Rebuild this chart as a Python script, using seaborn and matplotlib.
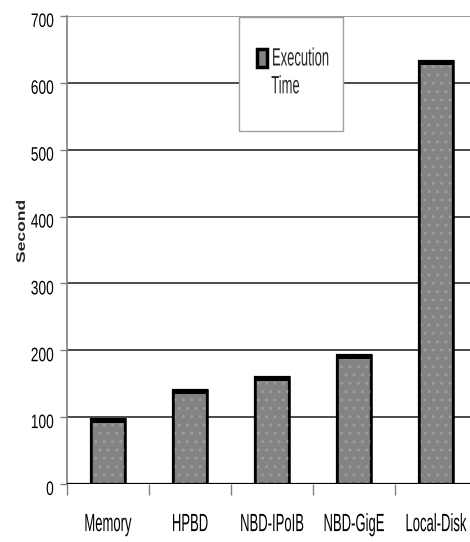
import matplotlib
matplotlib.use("Agg")
import matplotlib.pyplot as plt
import matplotlib.patheffects as pe
from matplotlib.legend_handler import HandlerPatch
from matplotlib.patches import Rectangle, Patch
from matplotlib.transforms import Affine2D
import numpy as np
import pandas as pd
import seaborn as sns

# Execution time per storage back-end (seconds)
categories = ["Memory", "HPBD", "NBD-IPoIB", "NBD-GigE", "Local-Disk"]
exec_time = [97, 141, 160, 193, 633]
y_ticks = [0, 100, 200, 300, 400, 500, 600, 700]


class Condensed(pe.AbstractPathEffect):
    """Redraw text glyphs with a narrow, tall face (Arial-Narrow look)."""

    def __init__(self, sx, sy=1.0, anchor="center", yanchor="center", dy=0.0):
        super().__init__()
        self.sx, self.sy = sx, sy
        self.anchor, self.yanchor = anchor, yanchor
        self.dy = dy

    def draw_path(self, renderer, gc, tpath, affine, rgbFace=None):
        ext = tpath.get_extents(affine)
        if self.anchor == "left":
            cx = ext.x0
        elif self.anchor == "right":
            cx = ext.x1
        else:
            cx = 0.5 * (ext.x0 + ext.x1)
        if self.yanchor == "base":
            cy = affine.transform([[0.0, 0.0]])[0][1]
        else:
            cy = 0.5 * (ext.y0 + ext.y1)
        reshape = (Affine2D().translate(-cx, -cy).scale(self.sx, self.sy)
                   .translate(cx, cy + self.dy))
        renderer.draw_path(gc, tpath, affine + reshape, rgbFace)


class RaisedHandle(HandlerPatch):
    """Legend swatch lifted to sit beside the first line of the label."""

    def __init__(self, lift, **kw):
        super().__init__(**kw)
        self.lift = lift

    def create_artists(self, legend, orig_handle, xdescent, ydescent,
                       width, height, fontsize, trans):
        p = Rectangle((-xdescent, -ydescent + self.lift), width, height)
        self.update_prop(p, orig_handle, legend)
        p.set_transform(trans)
        return [p]


sns.set_theme(style="white")
plt.rcParams["font.family"] = ["Liberation Sans", "DejaVu Sans"]

df = pd.DataFrame({"backend": categories, "seconds": exec_time})

fig = plt.figure(figsize=(4.70, 5.42), dpi=100)
ax = fig.add_axes([67 / 470, 1 - 484 / 542, 403 / 470, 468 / 542])

# horizontal grid lines behind the bars
for v in y_ticks[1:]:
    ax.axhline(v, color="#808080" if v == y_ticks[-1] else "#1a1a1a",
               lw=1.1, zorder=0)
ax.axhline(0, color="black", lw=1.6, zorder=3)

bar_w = 0.41
bar_grey = "#838383"
sns.barplot(data=df, x="backend", y="seconds", color=bar_grey, width=bar_w,
            saturation=1, edgecolor="black", linewidth=1.6, ax=ax, zorder=2)

# speckled texture and dark cap on each bar
xpos = np.arange(len(categories))
vals = np.asarray(exec_time, dtype=float)
ax.bar(xpos, vals, width=bar_w, facecolor="none", edgecolor="#9c9c9c",
       linewidth=0, hatch="..", zorder=2.1)
ax.bar(xpos, vals, width=bar_w, facecolor="none", edgecolor="black",
       linewidth=1.8, zorder=2.2)
cap = 6.0
ax.bar(xpos, cap, bottom=vals - cap, width=bar_w, color="black",
       linewidth=0, zorder=2.3)

ax.set_ylim(0, 700)
ax.set_xlim(-0.5, -0.5 + 403 / 82)
ax.set_yticks(y_ticks)
ax.set_yticklabels([str(t) for t in y_ticks])

# category labels centred, separators between categories
ax.set_xticks(xpos)
ax.set_xticklabels(categories)
ax.set_xticks(np.arange(len(categories)) - 0.5, minor=True)
ax.tick_params(axis="x", which="major", length=0, pad=26, labelsize=10,
               colors="black")
ax.tick_params(axis="x", which="minor", length=8, width=1, color="#808080",
               direction="out", bottom=True)
ax.tick_params(axis="y", length=5, width=1, color="#808080", direction="out",
               left=True, pad=4.5, labelsize=11, labelcolor="black")

for lab in ax.get_xticklabels():
    lab.set_path_effects([Condensed(0.94, 1.8, "center", "base")])
for lab in ax.get_yticklabels():
    lab.set_path_effects([Condensed(0.90, 1.28, "right", "center", dy=-4)])

for s in ["top", "right", "bottom"]:
    ax.spines[s].set_visible(False)
ax.spines["left"].set_color("#808080")
ax.spines["left"].set_linewidth(1.2)

ax.set_xlabel("")
ylab = ax.set_ylabel("Second", fontsize=10, fontweight="bold")
ylab.set_path_effects([Condensed(0.9, 1.26, "center", "center")])
ax.yaxis.set_label_coords(-0.0958, 0.5395)

# legend box
box = Rectangle((239 / 470, 1 - 131 / 542), 104 / 470, 114 / 542,
                transform=fig.transFigure, facecolor="white",
                edgecolor="#a0a0a0", linewidth=1, zorder=5)
fig.patches.append(box)
handle = Patch(facecolor=bar_grey, edgecolor="black", linewidth=2.5)
leg = fig.legend([handle], ["Execution\nTime"], loc="upper left",
                 bbox_to_anchor=(244 / 470, 1 - 34 / 542), frameon=False,
                 fontsize=18, handlelength=0.4, handleheight=0.72,
                 handletextpad=0.18, borderpad=0, labelspacing=0,
                 handler_map={Patch: RaisedHandle(lift=11)})
leg.set_zorder(6)
for t in leg.get_texts():
    t.set_path_effects([Condensed(0.52, 1.0, "left", "base")])

fig.savefig("out.png", dpi=100)
